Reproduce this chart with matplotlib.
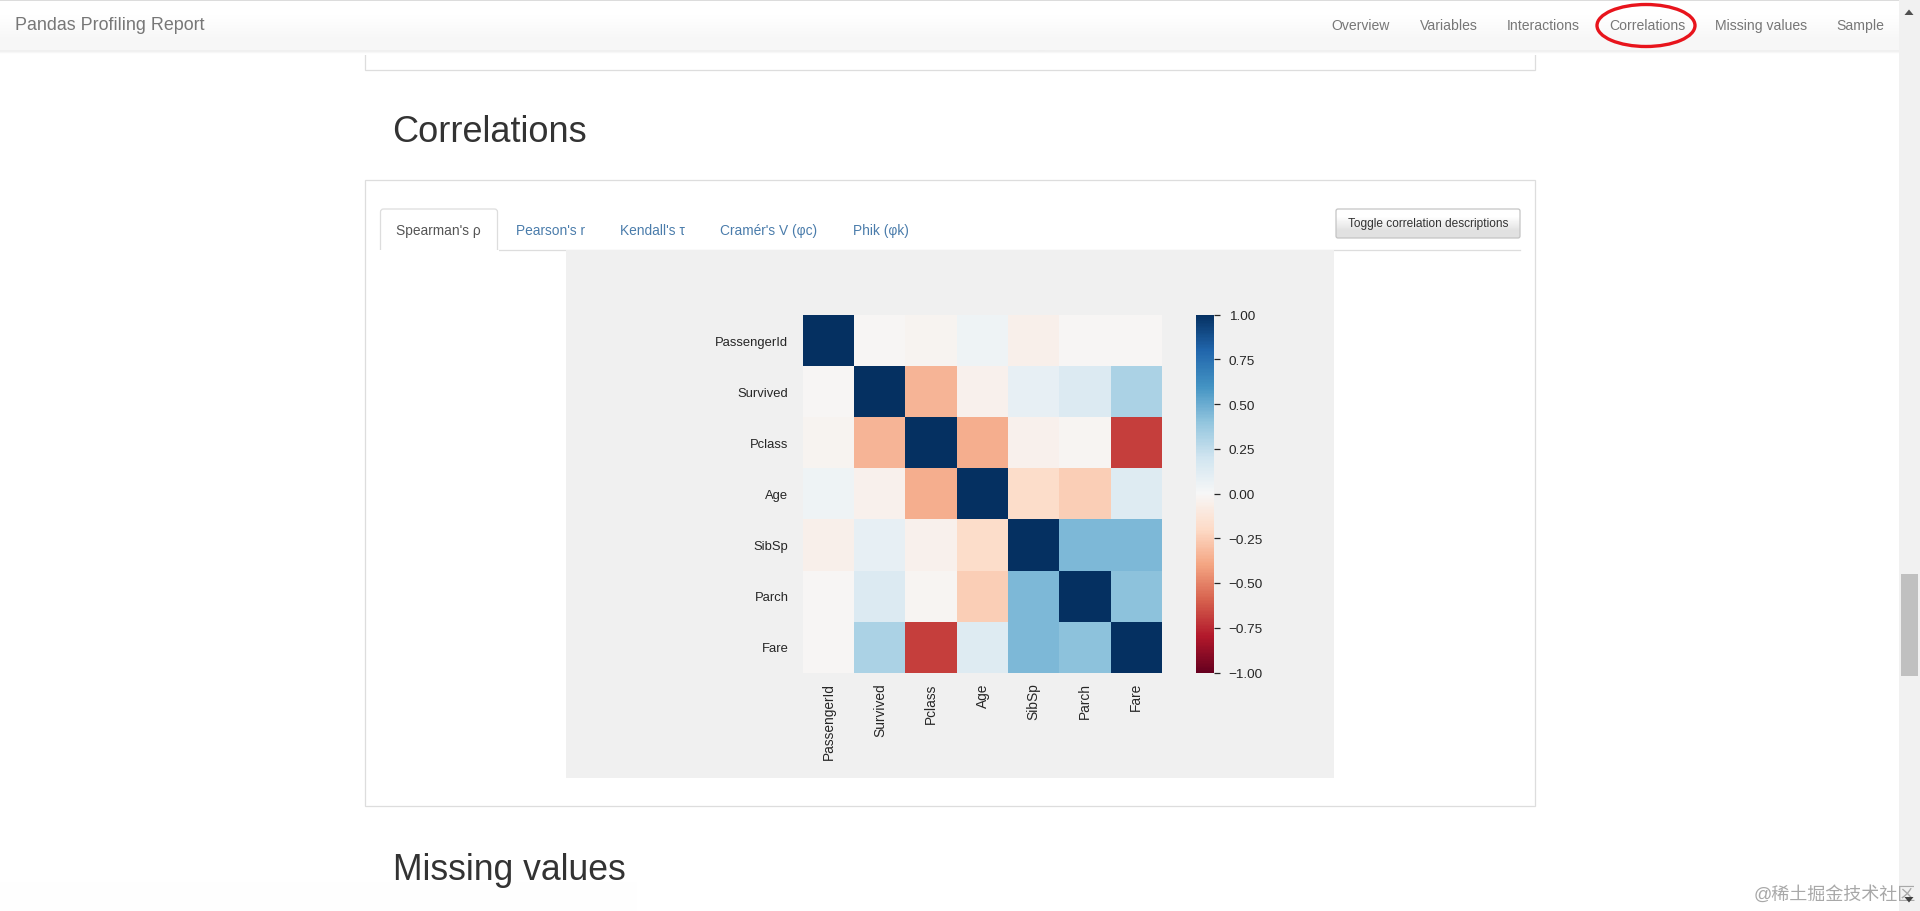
"""
Pandas Profiling report screenshot: correlations tab with Spearman heatmap.
"""

import matplotlib

matplotlib.use("Agg")

import matplotlib.pyplot as plt
import numpy as np
from matplotlib.patches import Ellipse, FancyBboxPatch, Polygon, Rectangle

plt.rcParams["font.family"] = ["Liberation Sans", "Noto Sans CJK SC", "DejaVu Sans"]

W, H = 1920, 912

# ---------------------------------------------------------------------------
# Data
# ---------------------------------------------------------------------------

variables = ["PassengerId", "Survived", "Pclass", "Age", "SibSp", "Parch", "Fare"]

passenger_id = [1.00, -0.01, -0.03, 0.04, -0.05, -0.01, -0.01]
survived = [-0.01, 1.00, -0.34, -0.04, 0.08, 0.14, 0.32]
pclass = [-0.03, -0.34, 1.00, -0.36, -0.04, -0.02, -0.69]
age = [0.04, -0.04, -0.36, 1.00, -0.18, -0.25, 0.13]
sibsp = [-0.05, 0.08, -0.04, -0.18, 1.00, 0.45, 0.45]
parch = [-0.01, 0.14, -0.02, -0.25, 0.45, 1.00, 0.41]
fare = [-0.01, 0.32, -0.69, 0.13, 0.45, 0.41, 1.00]

cbar_ticks = [1.0, 0.75, 0.5, 0.25, 0.0, -0.25, -0.5, -0.75, -1.0]
cbar_labels = ["1.00", "0.75", "0.50", "0.25", "0.00", "−0.25", "−0.50", "−0.75", "−1.00"]

nav_links = ["Overview", "Variables", "Interactions", "Correlations", "Missing values", "Sample"]
nav_x = [1331, 1420, 1507, 1609, 1715, 1836]

tabs = ["Spearman's ρ", "Pearson's r", "Kendall's τ", "Cramér's V (φc)", "Phik (φk)"]
tabs_x = [396, 516, 620, 720, 853]

BORDER = "#dddddd"
PANEL = "#f0f0f0"
NAV_TEXT = "#777777"
LINK = "#4a7cab"

# ---------------------------------------------------------------------------
# Page, drawn in pixel coordinates
# ---------------------------------------------------------------------------

fig = plt.figure(figsize=(W / 100, H / 100), dpi=100, facecolor="white")
page = fig.add_axes([0, 0, 1, 1], zorder=0)
page.set_axis_off()


def gradient(x0, x1, y0, y1, top, bottom, zorder=2):
    ramp = np.array([[top], [bottom]])
    page.imshow(ramp, cmap="gray", vmin=0, vmax=1, aspect="auto", interpolation="bilinear",
                extent=(x0, x1, y1, y0), zorder=zorder)


def rect(x0, y0, x1, y1, color, zorder=1):
    page.add_patch(Rectangle((x0, y0), x1 - x0, y1 - y0, facecolor=color, edgecolor="none", zorder=zorder))


def frame(x0, y0, x1, y1, zorder=1):
    page.add_patch(Rectangle((x0, y0), x1 - x0, y1 - y0, facecolor="white", edgecolor=BORDER, linewidth=0.9, zorder=zorder))


# cards, the first one runs under the navbar
frame(365, 20, 1534.5, 70.5)
frame(365, 180.5, 1534.5, 807)

# navbar
gradient(0, 1899, 1, 51, 1.0, 0.968)
gradient(0, 1899, 51, 56, 0.94, 1.0)
rect(0, 0, 1899, 1.5, "#dcdcdc", zorder=3)
page.text(15, 26, "Pandas Profiling Report", fontsize=12.9, color=NAV_TEXT, va="center", zorder=4)
for label, x in zip(nav_links, nav_x):
    page.text(x, 26, label, fontsize=10.1, color=NAV_TEXT, va="center", zorder=4)
page.add_patch(Ellipse((1646, 26.5), 98, 42, facecolor="none", edgecolor="#e8141c", linewidth=2.4, zorder=5))

# headings
page.text(392, 133, "Correlations", fontsize=26, color="#333333", va="center", zorder=4)
page.text(393, 871, "Missing values", fontsize=25.6, color="#333333", va="center", zorder=4)

# tabs
page.plot([380, 1520], [250.5, 250.5], color=BORDER, linewidth=0.9, zorder=2)
page.add_patch(FancyBboxPatch((380.5, 210), 117, 50, boxstyle="round,pad=0,rounding_size=3",
                              facecolor="white", edgecolor=BORDER, linewidth=0.9, zorder=2))
rect(379, 251, 499, 262, "white", zorder=2)
for i, (label, x) in enumerate(zip(tabs, tabs_x)):
    page.text(x, 231, label, fontsize=9.9, color="#555555" if i == 0 else LINK, va="center", zorder=4)

# toggle button
gradient(1336, 1520, 210, 239, 1.0, 0.88)
page.add_patch(FancyBboxPatch((1336, 210), 184, 29, boxstyle="round,pad=0,rounding_size=2",
                              facecolor="none", edgecolor="#c4c4c4", linewidth=0.9, zorder=3))
page.text(1428, 224, "Toggle correlation descriptions", fontsize=8.6, color="#333333",
          ha="center", va="center", zorder=4)

# scrollbar
rect(1899, 0, 1920, H, "#f1f1f1")
rect(1901, 575, 1918, 677, "#c0c0c0", zorder=2)
page.add_patch(Polygon([(1904.5, 16), (1913.5, 16), (1909, 10.5)], facecolor="#505050", edgecolor="none", zorder=3))
page.add_patch(Polygon([(1904.5, 898), (1913.5, 898), (1909, 903.5)], facecolor="#404040", edgecolor="none", zorder=6))

# faint status bar ghost and the watermark
rect(0, 883, 637, H, "#fefefe", zorder=0.5)
page.text(1754, 895, "@稀土掘金技术社区", fontsize=13, color="#a8a8a8", va="center", zorder=5)

# panel behind the heatmap
rect(566, 251, 1333.5, 779, PANEL, zorder=2)

gradient(0, 0, 0, 0, 1, 1, zorder=0)
page.set_xlim(0, W)
page.set_ylim(H, 0)


def px_axes(x0, y0, x1, y1):
    return fig.add_axes([x0 / W, 1 - y1 / H, (x1 - x0) / W, (y1 - y0) / H], zorder=3)


# ---------------------------------------------------------------------------
# Heatmap
# ---------------------------------------------------------------------------

matrix = np.array([passenger_id, survived, pclass, age, sibsp, parch, fare])

ax = px_axes(803, 315.5, 1162, 673.5)
im = ax.imshow(matrix, cmap="RdBu", vmin=-1, vmax=1, aspect="auto", interpolation="nearest")
ax.set_xticks(range(len(variables)), variables, rotation=90, fontsize=9.9, color="#262626")
ax.set_yticks(range(len(variables)), variables, fontsize=9.4, color="#262626")
ax.tick_params(axis="both", length=0)
ax.tick_params(axis="x", pad=7)
ax.tick_params(axis="y", pad=10.5)
for spine in ax.spines.values():
    spine.set_visible(False)

cax = px_axes(1196, 315.5, 1214, 673.5)
cbar = fig.colorbar(im, cax=cax)
cbar.outline.set_visible(False)
cbar.set_ticks(cbar_ticks, labels=cbar_labels)
cbar.ax.tick_params(length=4, width=0.9, color="#262626", labelsize=9.7, labelcolor="#262626", pad=6.5)

fig.savefig("out.png", dpi=100, facecolor="white")
